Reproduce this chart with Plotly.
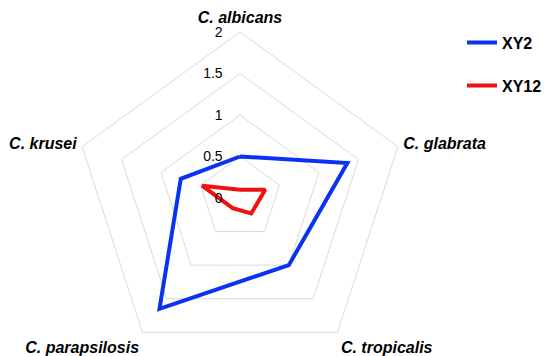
import plotly.graph_objects as go

# strains around the radar (clockwise from the top)
categories = ["C. albicans", "C. glabrata", "C. tropicalis", "C. parapsilosis", "C. krusei"]

# values
xy2 = [0.5, 1.36, 1.0, 1.65, 0.75]
xy12 = [0.1, 0.32, 0.23, 0.15, 0.48]

radial_ticks = [0, 0.5, 1, 1.5, 2]
radial_labels = ["0", "0.5", "1", "1.5", "2"]

FONT = "Arial, Liberation Sans, sans-serif"
GRID = "#d9d9d9"


def closed(vals):
    return list(vals) + [vals[0]]


fig = go.Figure()
fig.add_trace(go.Scatterpolar(
    r=closed(xy2), theta=closed(categories), name="XY2", mode="lines",
    line=dict(color="#0a32f0", width=4), legendgroup="a",
))
fig.add_trace(go.Scatterpolar(
    r=closed(xy12), theta=closed(categories), name="XY12", mode="lines",
    line=dict(color="#f01010", width=4), legendgroup="b",
))

fig.update_layout(
    width=550, height=356,
    margin=dict(l=0, r=0, t=24, b=0),
    paper_bgcolor="white",
    font=dict(family=FONT, color="black"),
    polar=dict(
        domain=dict(x=[0, 464 / 550], y=[0, 1]),
        bgcolor="white",
        gridshape="linear",
        angularaxis=dict(
            rotation=90, direction="clockwise",
            showgrid=False, showline=True, linecolor=GRID, linewidth=1,
            ticks="outside", ticklen=2, tickcolor="rgba(0,0,0,0)",
            tickfont=dict(family=FONT, size=16, weight="bold", style="italic", color="black"),
        ),
        radialaxis=dict(
            range=[0, 2], angle=90, side="counterclockwise",
            tickvals=radial_ticks, ticktext=radial_labels, tickangle=90,
            showline=False, ticks="outside", ticklen=12, tickcolor="rgba(0,0,0,0)",
            showgrid=True, gridcolor=GRID, gridwidth=1,
            tickfont=dict(family=FONT, size=14, color="black"),
        ),
    ),
    legend=dict(
        x=454 / 550, y=1.019, xanchor="left", yanchor="top",
        font=dict(family=FONT, size=16, weight="bold", color="black"),
        tracegroupgap=19,
        bgcolor="rgba(0,0,0,0)",
    ),
)

fig.write_html("out.html")
